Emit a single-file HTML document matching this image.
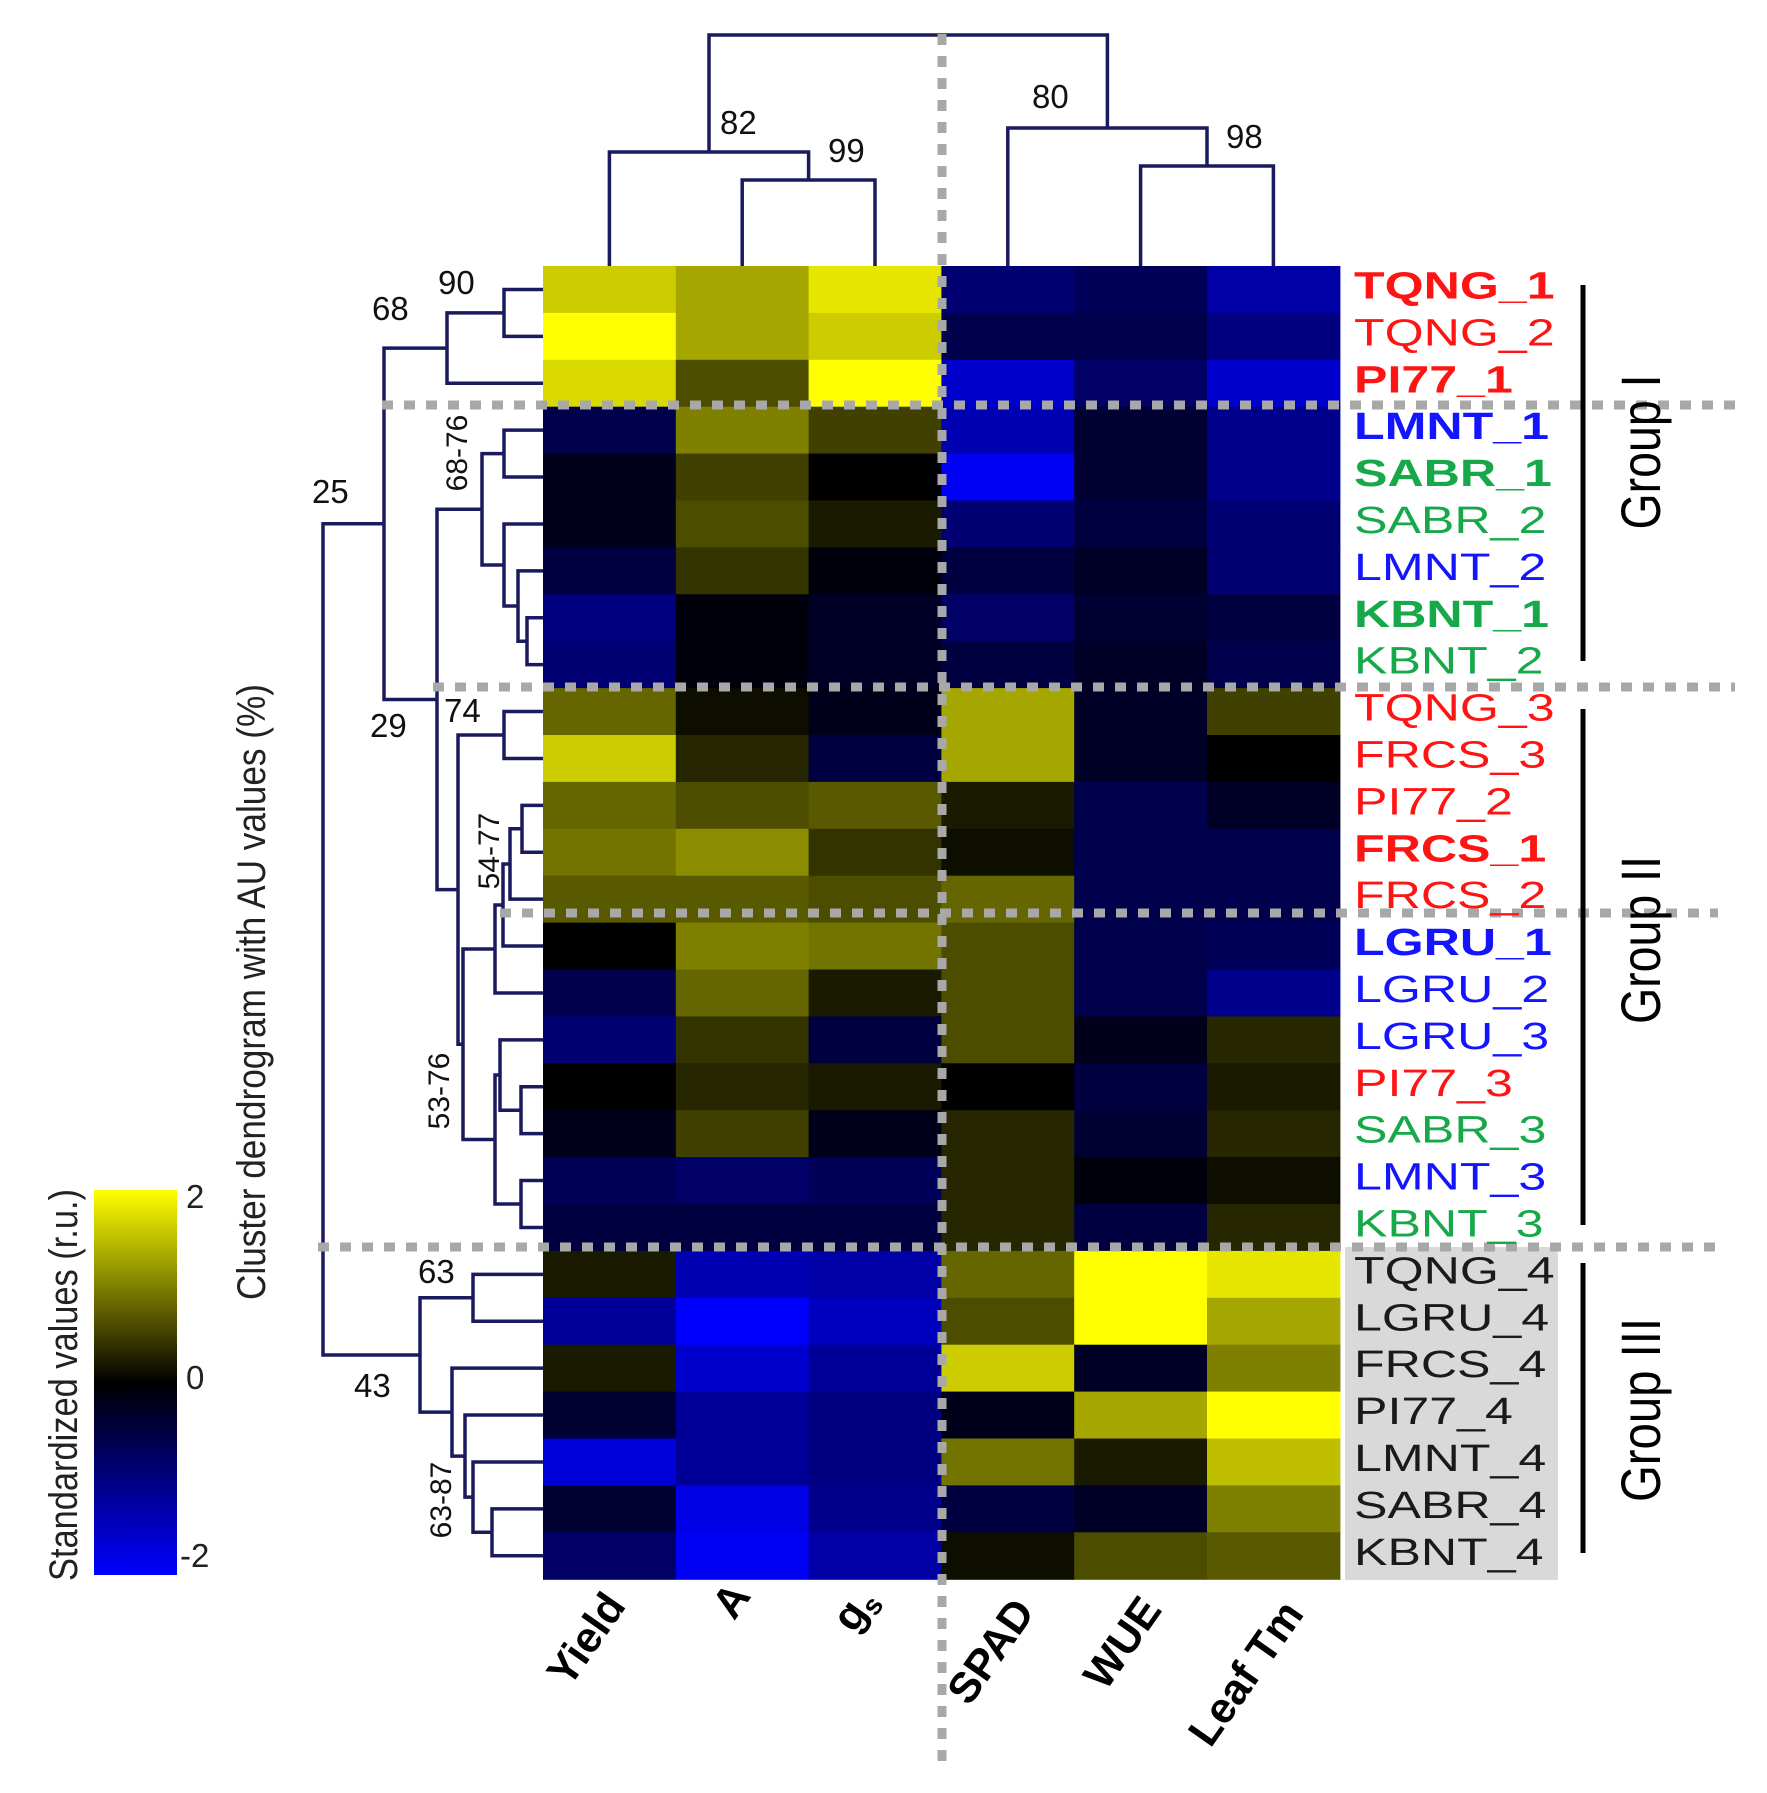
<!DOCTYPE html>
<html><head><meta charset="utf-8"><style>
html,body{margin:0;padding:0;background:#fff;}
svg{display:block;font-family:"Liberation Sans",sans-serif;}
</style></head><body>
<svg id="s" xmlns="http://www.w3.org/2000/svg" width="1767" height="1793" viewBox="0 0 1767 1793">
<defs><linearGradient id="cb" x1="0" y1="1" x2="0" y2="0">
<stop offset="0" stop-color="#0000ff"/><stop offset="0.5" stop-color="#000000"/><stop offset="1" stop-color="#ffff00"/>
</linearGradient></defs>
<g id="heat"></g>
<rect x="1345" y="1247" width="213" height="333" fill="#d9d9d9"/>
<g id="dend" fill="none" stroke="#1a1a5e" stroke-width="3.5"></g>
<g stroke="#a8a8a8" stroke-width="9" stroke-dasharray="11 11" fill="none">
<line x1="382" y1="405" x2="1735" y2="405"/>
<line x1="433" y1="687" x2="1735" y2="687"/>
<line x1="500" y1="913" x2="1718" y2="913"/>
<line x1="318" y1="1247" x2="1722" y2="1247"/>
<line x1="942" y1="34" x2="942" y2="1765"/>
</g>
<g font-size="33" fill="#111">
<text x="720" y="134">82</text><text x="828" y="162">99</text>
<text x="1032" y="108">80</text><text x="1226" y="148">98</text>
<text x="438" y="294">90</text><text x="372" y="320">68</text>
<text x="312" y="503">25</text><text x="370" y="737">29</text>
<text x="444" y="722">74</text><text x="418" y="1283">63</text>
<text x="354" y="1397">43</text>
<text transform="translate(467,453) rotate(-90)" text-anchor="middle" font-size="30">68-76</text>
<text transform="translate(499,851) rotate(-90)" text-anchor="middle" font-size="30">54-77</text>
<text transform="translate(449,1091) rotate(-90)" text-anchor="middle" font-size="30">53-76</text>
<text transform="translate(451,1500) rotate(-90)" text-anchor="middle" font-size="30">63-87</text>
</g>
<g id="labels"></g>
<g stroke="#000" stroke-width="5">
<line x1="1583" y1="285" x2="1583" y2="661"/>
<line x1="1583" y1="709" x2="1583" y2="1225"/>
<line x1="1583" y1="1263" x2="1583" y2="1553"/>
</g>
<g font-size="56" fill="#000" text-anchor="middle">
<text transform="translate(1660,452) rotate(-90)" textLength="155" lengthAdjust="spacingAndGlyphs">Group I</text>
<text transform="translate(1660,940) rotate(-90)" textLength="168" lengthAdjust="spacingAndGlyphs">Group II</text>
<text transform="translate(1660,1410) rotate(-90)" textLength="184" lengthAdjust="spacingAndGlyphs">Group III</text>
</g>
<text transform="translate(265,992) rotate(-90)" text-anchor="middle" font-size="40" fill="#222" textLength="616" lengthAdjust="spacingAndGlyphs">Cluster dendrogram with AU values (%)</text>
<rect x="94" y="1190" width="83" height="385" fill="url(#cb)"/>
<text transform="translate(77,1385) rotate(-90)" text-anchor="middle" font-size="40" fill="#222" textLength="392" lengthAdjust="spacingAndGlyphs">Standardized values (r.u.)</text>
<g font-size="33" fill="#222">
<text x="186" y="1208">2</text><text x="186" y="1389">0</text><text x="180" y="1567">-2</text>
</g>
<g font-size="43" font-weight="bold" fill="#000" text-anchor="end">
<text transform="translate(627,1606) rotate(-55)">Yield</text>
<text transform="translate(752,1596) rotate(-55)">A</text>
<text transform="translate(878,1600) rotate(-55)">g<tspan font-size="28" dy="8">s</tspan></text>
<text transform="translate(1036,1612) rotate(-55)">SPAD</text>
<text transform="translate(1163,1610) rotate(-55)">WUE</text>
<text transform="translate(1305,1614) rotate(-55)">Leaf Tm</text>
</g>
</svg>
<script>
var NS="http://www.w3.org/2000/svg";
var V=[[1.6,1.3,1.8,-0.9,-0.7,-1.3],[2.0,1.3,1.6,-0.6,-0.6,-1.0],[1.7,0.6,2.0,-1.6,-0.8,-1.6],
[-0.6,1.0,0.5,-1.4,-0.4,-1.1],[-0.2,0.5,0.0,-1.9,-0.4,-1.1],[-0.2,0.6,0.2,-0.9,-0.5,-0.9],
[-0.5,0.4,-0.1,-0.5,-0.3,-0.9],[-1.0,-0.1,-0.3,-0.8,-0.4,-0.5],[-0.9,-0.1,-0.3,-0.5,-0.3,-0.6],
[0.8,0.1,-0.2,1.3,-0.3,0.5],[1.6,0.3,-0.5,1.3,-0.3,0.0],[0.8,0.6,0.7,0.2,-0.6,-0.3],
[0.9,1.1,0.4,0.1,-0.6,-0.6],[0.7,0.7,0.6,0.8,-0.6,-0.6],[0.0,1.0,0.9,0.6,-0.6,-0.7],
[-0.6,0.8,0.2,0.6,-0.6,-1.1],[-0.9,0.4,-0.5,0.6,-0.2,0.3],[0.0,0.3,0.2,0.0,-0.5,0.2],
[-0.2,0.5,-0.2,0.3,-0.4,0.3],[-0.7,-0.8,-0.7,0.3,-0.1,0.1],[-0.5,-0.5,-0.5,0.3,-0.5,0.3],
[0.2,-1.4,-1.3,0.8,2.0,1.8],[-1.2,-2.0,-1.5,0.6,2.0,1.3],[0.2,-1.6,-1.2,1.6,-0.3,1.0],
[-0.4,-1.2,-1.0,-0.2,1.3,2.0],[-1.7,-1.2,-1.0,0.9,0.2,1.5],[-0.4,-1.8,-1.1,-0.5,-0.3,1.0],
[-0.8,-1.9,-1.3,0.1,0.6,0.7]];
var X0=543,Y0=266,CW=132.8,RH=46.9;
function col(v){var t=Math.min(1,Math.abs(v)/2);var c=Math.round(255*t);
return v>=0?"rgb("+c+","+c+",0)":"rgb(0,0,"+c+")";}
var h=document.getElementById("heat");
for(var i=0;i<28;i++)for(var j=0;j<6;j++){var r=document.createElementNS(NS,"rect");
r.setAttribute("x",X0+j*CW);r.setAttribute("y",Y0+i*RH);r.setAttribute("width",CW+0.6);r.setAttribute("height",RH+0.6);
r.setAttribute("fill",col(V[i][j]));h.appendChild(r);}
function ry(i){return Y0+RH*(i-0.5);}
var d=document.getElementById("dend");
function P(s){var p=document.createElementNS(NS,"path");p.setAttribute("d",s);d.appendChild(p);}
function J(ya,yb,x,xa,xb){P("M"+xa+" "+ya+"H"+x+"V"+yb+"H"+xb);return (ya+yb)/2;}
var L=543;
var cx=function(j){return X0+CW*(j-0.5);};
P("M"+cx(2)+" 266V180H"+cx(3)+"V266");
var m1=(cx(2)+cx(3))/2;
P("M"+cx(1)+" 266V152H"+m1+"V180");
var m2=(cx(1)+m1)/2;
P("M"+cx(5)+" 266V166H"+cx(6)+"V266");
var m3=(cx(5)+cx(6))/2;
P("M"+cx(4)+" 266V128H"+m3+"V166");
var m4=(cx(4)+m3)/2;
P("M"+m2+" 152V35H"+m4+"V128");
var a=J(ry(1),ry(2),504,L,L);
var g1=J(a,ry(3),447,504,L);
var b=J(ry(4),ry(5),504,L,L);
var c=J(ry(8),ry(9),527,L,L);
var e=J(ry(7),c,518,L,527);
var f=J(ry(6),e,504,L,518);
var g49=J(b,f,482,504,504);
var n1=J(ry(10),ry(11),504,L,L);
var k=J(ry(12),ry(13),522,L,L);
k=J(k,ry(14),510,522,L);
k=J(k,ry(15),503,510,L);
k=J(k,ry(16),495,503,L);
var q=J(ry(18),ry(19),521,L,L);
q=J(ry(17),q,500,L,521);
var w=J(ry(20),ry(21),521,L,L);
var z=J(q,w,495,500,521);
var y1=J(k,z,463,495,495);
var g2=J(n1,y1,458,504,463);
var g29=J(g49,g2,437,482,458);
var g25=J(g1,g29,384,447,437);
var t=J(ry(22),ry(23),473,L,L);
var u=J(ry(27),ry(28),492,L,L);
u=J(ry(26),u,473,L,492);
u=J(ry(25),u,465,L,473);
u=J(ry(24),u,452,L,465);
var g3=J(t,u,420,473,452);
J(g25,g3,323,384,420);
var labs=[["TQNG_1","r",1],["TQNG_2","r",0],["PI77_1","r",1],["LMNT_1","b",1],["SABR_1","g",1],["SABR_2","g",0],["LMNT_2","b",0],["KBNT_1","g",1],["KBNT_2","g",0],
["TQNG_3","r",0],["FRCS_3","r",0],["PI77_2","r",0],["FRCS_1","r",1],["FRCS_2","r",0],["LGRU_1","b",1],["LGRU_2","b",0],["LGRU_3","b",0],["PI77_3","r",0],["SABR_3","g",0],["LMNT_3","b",0],["KBNT_3","g",0],
["TQNG_4","k",0],["LGRU_4","k",0],["FRCS_4","k",0],["PI77_4","k",0],["LMNT_4","k",0],["SABR_4","k",0],["KBNT_4","k",0]];
var C={r:"#ff1414",b:"#1414ff",g:"#17a84a",k:"#1a1a1a"};
var lg=document.getElementById("labels");
for(var i=0;i<28;i++){var tx=document.createElementNS(NS,"text");
tx.setAttribute("transform","translate(1354,"+(ry(i+1)+9)+") scale(1.32,1)");
tx.setAttribute("font-size","38");tx.setAttribute("fill",C[labs[i][1]]);
if(labs[i][2])tx.setAttribute("font-weight","bold");
tx.textContent=labs[i][0];lg.appendChild(tx);}
</script>
</body></html>
